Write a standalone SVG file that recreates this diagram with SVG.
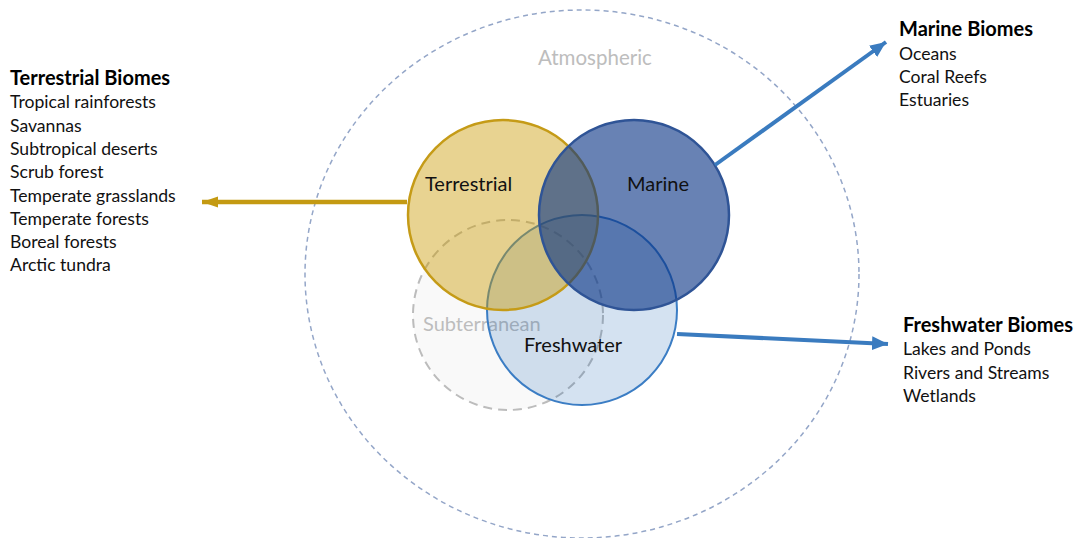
<svg xmlns="http://www.w3.org/2000/svg" width="1077" height="538" viewBox="0 0 1077 538">
  <style>
    .lbl { font-family: Lato, "Liberation Sans", sans-serif; font-size: 17.6px; fill: #111; }
    .ttl { font-family: Lato, "Liberation Sans", sans-serif; font-size: 20px; font-weight: bold; fill: #000; }
    .node { font-family: Lato, "Liberation Sans", sans-serif; font-size: 20px; fill: #111; }
    .ghost { font-family: Lato, "Liberation Sans", sans-serif; font-size: 20px; fill: #bdbdbd; }
  </style>
  <defs>
    <marker id="headGold" markerUnits="userSpaceOnUse" markerWidth="18" markerHeight="14" refX="16" refY="7" orient="auto">
      <path d="M0,1.5 L16,7 L0,12.5 Z" fill="#c49a12"/>
    </marker>
    <marker id="headBlue" markerUnits="userSpaceOnUse" markerWidth="18" markerHeight="16" refX="16" refY="8" orient="auto">
      <path d="M0,1 L16,8 L0,15 Z" fill="#3a7bbf"/>
    </marker>
  </defs>

  <rect width="1077" height="538" fill="#ffffff"/>

  <!-- atmospheric envelope -->
  <g id="atmospheric">
    <ellipse cx="582" cy="274" rx="277" ry="264" fill="none" stroke="#94a6c8" stroke-width="1.5" stroke-dasharray="5 4"/>
    <text class="ghost" x="538" y="65" style="font-size:20.5px">Atmospheric</text>
  </g>

  <!-- overlapping biome circles -->
  <g id="subterranean">
    <circle cx="508" cy="315" r="95" fill="#f4f4f4" fill-opacity="0.55" stroke="#bcbcbc" stroke-width="2" stroke-dasharray="9 6"/>
    <text class="ghost" x="423" y="331">Subterranean</text>
  </g>

  <g id="freshwater">
    <circle cx="582" cy="310" r="95" fill="#0055ad" fill-opacity="0.17" stroke="#3b7dc4" stroke-width="2"/>
    <text class="node" x="524" y="352">Freshwater</text>
  </g>

  <g id="terrestrial">
    <circle cx="503" cy="215" r="95" fill="#ca9900" fill-opacity="0.43" stroke="#c59b17" stroke-width="2.5"/>
    <text class="node" x="425" y="191">Terrestrial</text>
  </g>

  <g id="marine">
    <circle cx="634" cy="215" r="95" fill="#083284" fill-opacity="0.61" stroke="#2f5496" stroke-width="2.5"/>
    <text class="node" x="627" y="191">Marine</text>
  </g>

  <!-- connectors -->
  <g id="connectors">
    <line x1="407" y1="202" x2="202" y2="202" stroke="#c49a12" stroke-width="4.5" marker-end="url(#headGold)"/>
    <line x1="715" y1="165" x2="886" y2="42" stroke="#3a7bbf" stroke-width="4" marker-end="url(#headBlue)"/>
    <line x1="677" y1="334" x2="888" y2="344" stroke="#3a7bbf" stroke-width="4" marker-end="url(#headBlue)"/>
  </g>

  <!-- biome lists -->
  <g id="terrestrial-biomes">
    <text class="ttl" x="10" y="85">Terrestrial Biomes</text>
    <text class="lbl" x="10" y="108.3">Tropical rainforests</text>
    <text class="lbl" x="10" y="131.6">Savannas</text>
    <text class="lbl" x="10" y="154.9">Subtropical deserts</text>
    <text class="lbl" x="10" y="178.2">Scrub forest</text>
    <text class="lbl" x="10" y="201.5">Temperate grasslands</text>
    <text class="lbl" x="10" y="224.8">Temperate forests</text>
    <text class="lbl" x="10" y="248.1">Boreal forests</text>
    <text class="lbl" x="10" y="271.4">Arctic tundra</text>
  </g>

  <g id="marine-biomes">
    <text class="ttl" x="899" y="36">Marine Biomes</text>
    <text class="lbl" x="899" y="59.5">Oceans</text>
    <text class="lbl" x="899" y="82.8">Coral Reefs</text>
    <text class="lbl" x="899" y="106.1">Estuaries</text>
  </g>

  <g id="freshwater-biomes">
    <text class="ttl" x="903" y="332">Freshwater Biomes</text>
    <text class="lbl" x="903" y="355.3">Lakes and Ponds</text>
    <text class="lbl" x="903" y="378.6">Rivers and Streams</text>
    <text class="lbl" x="903" y="401.9">Wetlands</text>
  </g>
</svg>
